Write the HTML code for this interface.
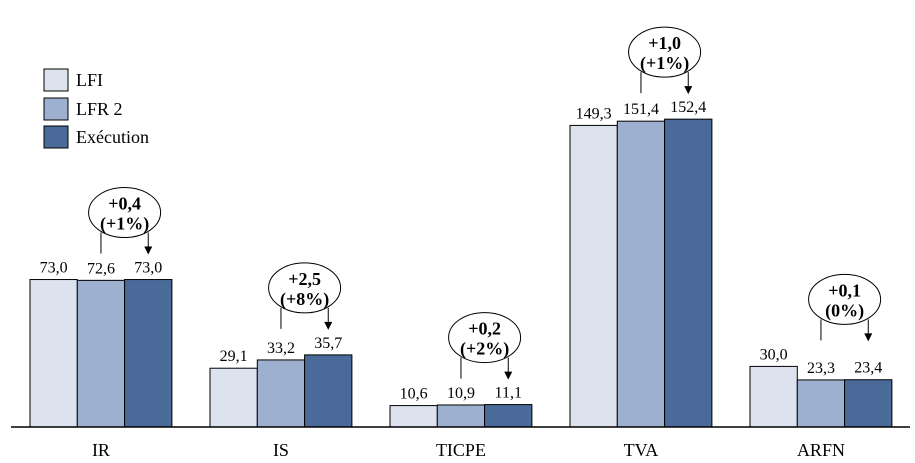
<!DOCTYPE html>
<html><head><meta charset="utf-8"><style>
body{margin:0;background:#fff;}
svg{display:block;font-family:"Liberation Serif",serif;}
</style></head><body>
<svg id="chart" width="915" height="463">
<g id="legend">
<g><rect x="44" y="69" width="24" height="22" fill="#dce3ee" stroke="#000"/><text x="76" y="86" font-size="18">LFI</text></g>
<g><rect x="44" y="98" width="24" height="22" fill="#9eb0cf" stroke="#000"/><text x="76" y="115" font-size="18">LFR 2</text></g>
<g><rect x="44" y="126" width="24" height="22" fill="#4a6a9a" stroke="#000"/><text x="76" y="143" font-size="18">Exécution</text></g>
</g>
<g id="bars"></g>
<line x1="11" y1="427" x2="910" y2="427" stroke="#000" stroke-width="1.5"/>
</svg>
<script>
const categories=["IR","IS","TICPE","TVA","ARFN"];
const lfi=[73.0,29.1,10.6,149.3,30.0];
const lfr2=[72.6,33.2,10.9,151.4,23.3];
const execution=[73.0,35.7,11.1,152.4,23.4];
const deltaValues=["+0,4","+2,5","+0,2","+1,0","+0,1"];
const deltaPct=["(+1%)","(+8%)","(+2%)","(+1%)","(0%)"];
const base=427,scale=2.02,groupStart=30,groupStep=180,barW=47.3;
const y=v=>base-v*scale;
const fmt=v=>v.toFixed(1).replace('.',',');
const NS="http://www.w3.org/2000/svg";
const g=document.getElementById('bars');
function mk(t,a,txt){const e=document.createElementNS(NS,t);for(const k in a)e.setAttribute(k,a[k]);if(txt!==undefined)e.textContent=txt;g.appendChild(e);return e;}
const series=[lfi,lfr2,execution],colors=["#dce3ee","#9eb0cf","#4a6a9a"],sn=["lfi","lfr2","execution"];
categories.forEach((c,i)=>{
  const x0=groupStart+i*groupStep;
  series.forEach((s,j)=>{
    const x=x0+j*barW;
    const r=mk('rect',{x:x,y:y(s[i]),width:barW,height:s[i]*scale,fill:colors[j],stroke:'#000','stroke-width':1});
    
    
    const t=mk('text',{x:x+barW/2,y:y(s[i])-7,'text-anchor':'middle','font-size':16},fmt(s[i]));
    
    
  });
  const cl=mk('text',{x:x0+1.5*barW,y:456,'text-anchor':'middle','font-size':18},c);
  
  
  const top=y(Math.max(lfi[i],lfr2[i],execution[i]));
  const cx=x0+2*barW, cy=top-67;
  const l1=mk('line',{x1:x0+1.5*barW,y1:cy+20,x2:x0+1.5*barW,y2:top-26,stroke:'#000'});
  
  
  const ax=x0+2.5*barW;
  const l2=mk('line',{x1:ax,y1:cy+20,x2:ax,y2:top-32,stroke:'#000'});
  
  
  const ah=mk('polygon',{points:`${ax-4},${top-33} ${ax+4},${top-33} ${ax},${top-25}`,fill:'#000'});
  
  
  const el=mk('ellipse',{cx:cx,cy:cy,rx:36,ry:25,fill:'#fff',stroke:'#000'});
  
  
  const t1=mk('text',{x:cx,y:cy-3,'text-anchor':'middle','font-size':18,'font-weight':'bold'},deltaValues[i]);
  
  
  const t2=mk('text',{x:cx,y:cy+17,'text-anchor':'middle','font-size':18,'font-weight':'bold'},deltaPct[i]);
  
  
});
</script>
</body></html>
